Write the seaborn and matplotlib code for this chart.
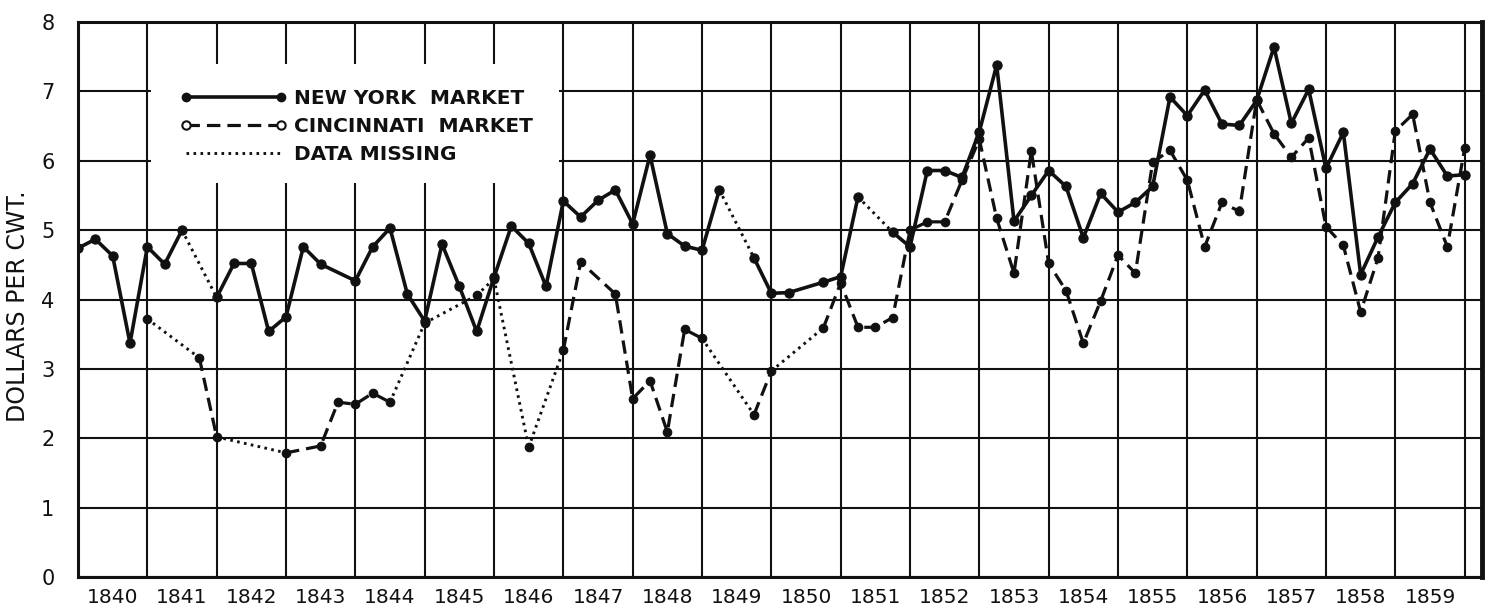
import matplotlib
matplotlib.use("Agg")
import matplotlib.pyplot as plt
from matplotlib.lines import Line2D
from matplotlib.patches import Rectangle
import seaborn as sns
import pandas as pd

# Quarterly hog prices, dollars per hundredweight, 1840-1859.
# Quarter index q counts quarters from the start of 1840 (year = 1840 + q/4).
years = list(range(1840, 1860))

ny_quarter = [0, 1, 2, 3, 4, 5, 6, 8, 9, 10, 11, 12, 13, 14, 16, 17, 18, 19, 20,
              21, 22, 23, 24, 25, 26, 27, 28, 29, 30, 31, 32, 33, 34, 35, 36, 37,
              39, 40, 41, 43, 44, 45, 47, 48, 49, 50, 51, 52, 53, 54, 55, 56, 57,
              58, 59, 60, 61, 62, 63, 64, 65, 66, 67, 68, 69, 70, 71, 72, 73, 74,
              75, 76, 77, 78, 79, 80]
ny_price = [4.74, 4.87, 4.63, 3.37, 4.76, 4.51, 5.00, 4.03, 4.52, 4.52, 3.54, 3.75,
            4.76, 4.51, 4.27, 4.76, 5.03, 4.08, 3.69, 4.80, 4.19, 3.54, 4.32, 5.06,
            4.81, 4.19, 5.42, 5.19, 5.43, 5.58, 5.09, 6.08, 4.95, 4.77, 4.71, 5.58,
            4.60, 4.09, 4.10, 4.25, 4.33, 5.48, 4.97, 4.76, 5.86, 5.86, 5.76, 6.42,
            7.38, 5.13, 5.50, 5.86, 5.63, 4.89, 5.53, 5.26, 5.40, 5.63, 6.92, 6.65,
            7.02, 6.53, 6.51, 6.87, 7.64, 6.54, 7.03, 5.89, 6.41, 4.36, 4.90, 5.40,
            5.67, 6.17, 5.78, 5.80]
# quarters after which the next link bridges missing data
ny_missing_after = [6, 37, 45]

cin_quarter = [4, 7, 8, 12, 14, 15, 16, 17, 18, 20, 23, 24, 26, 28, 29, 31, 32, 33,
               34, 35, 36, 39, 40, 43, 44, 45, 46, 47, 48, 49, 50, 51, 52, 53, 54,
               55, 56, 57, 58, 59, 60, 61, 62, 63, 64, 65, 66, 67, 68, 69, 70, 71,
               72, 73, 74, 75, 76, 77, 78, 79, 80]
cin_price = [3.72, 3.16, 2.02, 1.79, 1.89, 2.52, 2.49, 2.65, 2.52, 3.66, 4.06, 4.30,
             1.87, 3.27, 4.54, 4.08, 2.57, 2.83, 2.09, 3.57, 3.44, 2.34, 2.97, 3.59,
             4.24, 3.60, 3.60, 3.74, 5.00, 5.12, 5.12, 5.72, 6.31, 5.17, 4.38, 6.14,
             4.52, 4.13, 3.37, 3.98, 4.64, 4.38, 5.98, 6.15, 5.72, 4.76, 5.40, 5.27,
             6.88, 6.39, 6.05, 6.33, 5.05, 4.78, 3.82, 4.60, 6.43, 6.67, 5.40, 4.76,
             6.18]
cin_missing_after = [4, 8, 18, 20, 23, 24, 26, 36, 40]

legend_labels = ["NEW YORK  MARKET", "CINCINNATI  MARKET", "DATA MISSING"]

sns.set_theme(style="white")
plt.rcParams["font.family"] = ["DejaVu Sans"]

INK = "#111111"
SOLID = "-"
DASHED = (0, (4.2, 2.2))
DOTTED = (0, (0.9, 1.5))

fig = plt.figure(figsize=(15, 6.13), dpi=100)
ax = fig.add_axes([0.052, 0.0587, 0.936, 0.9053])


def draw_series(quarters, prices, missing_after, run_style, lw, msize):
    df = pd.DataFrame({"year": [1840 + q / 4 for q in quarters], "price": prices})
    start = 0
    for i in range(len(quarters) - 1):
        if quarters[i] in missing_after:
            if i > start:
                sns.lineplot(data=df.iloc[start:i + 1], x="year", y="price", ax=ax,
                             sort=False, estimator=None, color=INK, lw=lw,
                             linestyle=run_style, zorder=3)
            sns.lineplot(data=df.iloc[i:i + 2], x="year", y="price", ax=ax,
                         sort=False, estimator=None, color=INK, lw=2.1,
                         linestyle=DOTTED, zorder=3)
            start = i + 1
    if len(quarters) - 1 > start:
        sns.lineplot(data=df.iloc[start:], x="year", y="price", ax=ax,
                     sort=False, estimator=None, color=INK, lw=lw,
                     linestyle=run_style, zorder=3)
    sns.scatterplot(data=df, x="year", y="price", ax=ax, color=INK, s=msize,
                    edgecolor=INK, linewidth=0.8, zorder=4)


draw_series(cin_quarter, cin_price, cin_missing_after, DASHED, 2.3, 38)
draw_series(ny_quarter, ny_price, ny_missing_after, SOLID, 2.6, 44)

# axes, grid and ticks
ax.set_xlim(1840, 1860.25)
ax.set_ylim(0, 8)
ax.set_xticks(range(1840, 1861))
ax.set_xticklabels([])
ax.set_xticks([y + 0.5 for y in years], minor=True)
ax.set_xticklabels([str(y) for y in years], minor=True, fontsize=14.5)
ax.set_yticks(range(0, 9))
ax.set_yticklabels([str(v) for v in range(0, 9)], fontsize=15)
ax.tick_params(axis="both", which="both", length=0, colors=INK)
ax.tick_params(axis="y", pad=17)
ax.tick_params(axis="x", which="minor", pad=8)
ax.set_axisbelow(True)
ax.grid(True, which="major", color=INK, lw=1.5)
ax.set_xlabel("")
ax.set_ylabel("DOLLARS PER CWT.", fontsize=17, color=INK)
ax.yaxis.set_label_coords(-0.034, 0.488)

for side, spine in ax.spines.items():
    spine.set_visible(True)
    spine.set_color(INK)
    spine.set_linewidth(2.2)
ax.spines["right"].set_linewidth(3.5)

# clear area behind the key
ax.add_patch(Rectangle((1841.06, 5.68), 5.88, 1.72, facecolor="white",
                       edgecolor="none", zorder=1))

handles = [
    Line2D([], [], color=INK, lw=2.6, linestyle=SOLID, marker="o", markersize=6,
           markerfacecolor=INK, markeredgecolor=INK),
    Line2D([], [], color=INK, lw=2.3, linestyle=DASHED, marker="o", markersize=6,
           markerfacecolor="white", markeredgecolor=INK, markeredgewidth=1.5),
    Line2D([], [], color=INK, lw=2.1, linestyle=DOTTED),
]
leg = ax.legend(handles, legend_labels, loc="upper left",
                bbox_to_anchor=(0.0726, 0.880), frameon=False, numpoints=2,
                handlelength=5.3, handletextpad=0.35, labelspacing=0.45,
                borderpad=0, borderaxespad=0,
                prop={"size": 14.5, "weight": "bold", "family": "DejaVu Sans"})
for t in leg.get_texts():
    t.set_color(INK)

fig.savefig("out.png", dpi=100, facecolor="white")
